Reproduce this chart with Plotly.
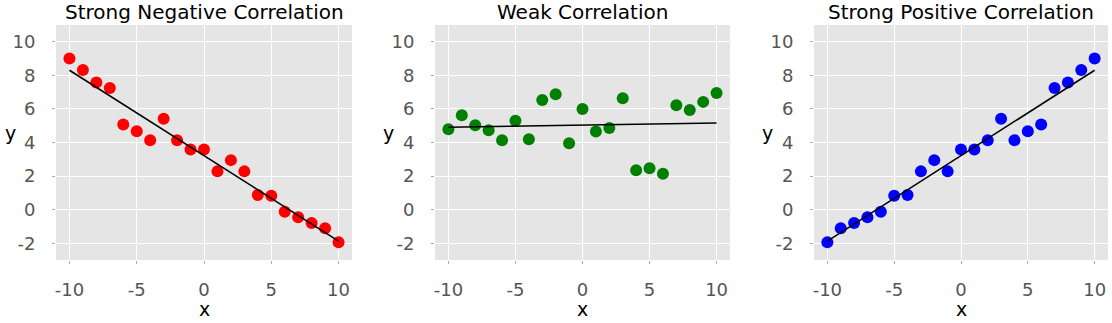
import numpy as np
import plotly.graph_objects as go

# ---- data ----
x_vals = list(range(-10, 11))
y_negative = [9.01, 8.32, 7.58, 7.25, 5.07, 4.67, 4.14, 5.41, 4.14, 3.58, 3.58,
              2.28, 2.95, 2.28, 0.87, 0.83, -0.12, -0.46, -0.79, -1.11, -1.94]
y_weak = [4.79, 5.62, 5.03, 4.73, 4.14, 5.29, 4.20, 6.53, 6.87, 3.96, 6.00,
          4.65, 4.87, 6.63, 2.34, 2.46, 2.14, 6.22, 5.94, 6.42, 6.95]
y_positive = [-1.94, -1.11, -0.79, -0.46, -0.12, 0.83, 0.87, 2.28, 2.95, 2.28, 3.58,
              3.58, 4.14, 5.41, 4.14, 4.67, 5.07, 7.25, 7.58, 8.32, 9.01]
titles = ["Strong Negative Correlation", "Weak Correlation", "Strong Positive Correlation"]
colors = ["red", "green", "blue"]
x_ticks = [-10, -5, 0, 5, 10]
x_ticktext = ["-10", "-5", "0", "5", "10"]
y_ticks = [-2, 0, 2, 4, 6, 8, 10]
y_ticktext = ["-2", "0", "2", "4", "6", "8", "10"]

W, H = 1112, 323
panels_px = [(56, 352), (435, 730), (814, 1108)]
plot_top, plot_bottom = 25, 260

fig = go.Figure()
font = "DejaVu Sans"
series = [y_negative, y_weak, y_positive]
for i, (ys, c) in enumerate(zip(series, colors)):
    ax = "" if i == 0 else str(i + 1)
    m, b = np.polyfit(x_vals, ys, 1)
    fit = [m * xv + b for xv in (x_vals[0], x_vals[-1])]
    fig.add_trace(go.Scatter(x=x_vals, y=ys, mode="markers",
                             marker=dict(color=c, size=12, line=dict(width=0)),
                             xaxis="x" + ax, yaxis="y" + ax, showlegend=False))
    fig.add_trace(go.Scatter(x=[x_vals[0], x_vals[-1]], y=fit, mode="lines",
                             line=dict(color="black", width=1.5),
                             xaxis="x" + ax, yaxis="y" + ax, showlegend=False))
    x0, x1 = panels_px[i]
    dom_x = [x0 / W, x1 / W]
    dom_y = [(H - plot_bottom) / H, (H - plot_top) / H]
    common = dict(showgrid=True, gridcolor="white", gridwidth=1, zeroline=False,
                  showline=False, ticks="outside", ticklen=3, tickcolor="#aaaaaa",
                  tickfont=dict(family=font, size=18, color="#555555"))
    fig.update_layout(**{
        "xaxis" + ax: dict(domain=dom_x, range=[-11, 11], tickvals=x_ticks,
                           ticktext=x_ticktext, anchor="y" + ax,
                           ticklabelstandoff=10, **common),
        "yaxis" + ax: dict(domain=dom_y, range=[-3, 11], tickvals=y_ticks,
                           ticktext=y_ticktext, anchor="x" + ax,
                           ticklabelstandoff=13, **common),
    })
    cx = (x0 + x1) / 2 / W
    fig.add_annotation(text=titles[i], x=cx, y=(H - 12) / H, xref="paper", yref="paper",
                       showarrow=False, xanchor="center", yanchor="middle",
                       font=dict(family=font, size=20, color="black"))
    fig.add_annotation(text="x", x=cx, y=(H - 309) / H, xref="paper", yref="paper",
                       showarrow=False, xanchor="center", yanchor="middle",
                       font=dict(family=font, size=19, color="black"))
    ylab_x = [10, 388, 767][i]
    fig.add_annotation(text="y", x=ylab_x / W, y=(H - 133) / H, xref="paper", yref="paper",
                       showarrow=False, xanchor="center", yanchor="middle",
                       font=dict(family=font, size=19, color="black"))

fig.update_layout(width=W, height=H, margin=dict(l=0, r=0, t=0, b=0),
                  paper_bgcolor="white", plot_bgcolor="#E5E5E5")
fig.write_html("out.html")
